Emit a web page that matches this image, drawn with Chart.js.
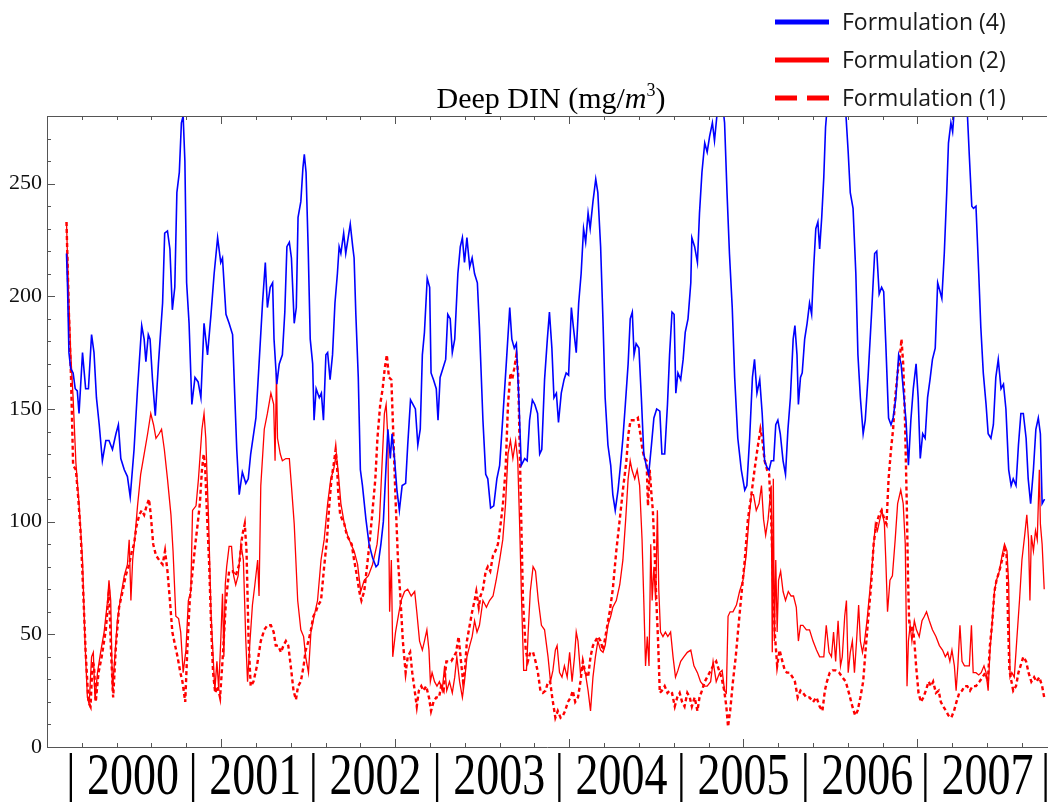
<!DOCTYPE html>
<html>
<head>
<meta charset="utf-8">
<script src="https://cdn.jsdelivr.net/npm/chart.js@4.4.0/dist/chart.umd.min.js"></script>
<style>
  html, body { margin: 0; padding: 0; background: #fff; }
  canvas { display: block; }
</style>
</head>
<body>
<canvas id="din-chart" width="1048" height="802"></canvas>
<script>
// Deep DIN (mg/m3), x in model days, pairs are [day, value]
const f4Series = [[56,219],[59,204],[63,175],[68,168],[75,166],[81,159],[87,158],[92,148],[102,175],[111,159],[119,159],[128,183],[135,175],[142,155],[150,143],[159,127],[169,136],[178,136],[188,132],[198,139],[205,143],[212,128],[222,123],[231,120],[239,111],[250,132],[260,159],[272,187],[279,181],[284,171],[291,183],[296,181],[303,163],[311,147],[320,170],[332,197],[338,228],[346,229],[353,221],[360,194],[367,204],[373,246],[380,255],[386,277],[391,280],[396,260],[401,206],[408,188],[416,152],[425,164],[434,162],[442,155],[451,188],[461,174],[471,192],[480,210],[490,226],[499,215],[504,217],[514,192],[523,188],[533,183],[539,157],[545,132],[552,112],[561,122],[571,117],[578,119],[585,130],[600,146],[609,170],[619,197],[627,215],[633,195],[641,204],[648,206],[652,181],[660,161],[667,170],[676,174],[683,193],[689,222],[696,224],[702,217],[710,188],[716,195],[721,235],[729,242],[735,257],[739,263],[744,255],[750,222],[756,181],[763,170],[767,145],[773,159],[782,155],[788,157],[794,145],[801,174],[806,175],[813,163],[820,174],[827,197],[834,210],[839,222],[844,219],[852,228],[858,219],[865,226],[871,232],[878,222],[882,217],[887,192],[894,164],[900,123],[906,116],[916,101],[925,90],[935,84],[945,80],[951,81],[959,90],[966,100],[972,119],[979,141],[986,128],[991,139],[998,128],[1005,114],[1012,105],[1020,116],[1030,117],[1036,134],[1044,154],[1051,152],[1058,150],[1065,134],[1072,141],[1078,174],[1084,184],[1092,208],[1099,204],[1103,166],[1110,163],[1118,159],[1123,145],[1129,164],[1137,168],[1145,172],[1151,192],[1158,190],[1164,175],[1171,181],[1180,210],[1187,222],[1193,226],[1199,215],[1206,226],[1214,213],[1221,217],[1228,210],[1236,206],[1242,186],[1252,145],[1260,121],[1266,119],[1274,106],[1283,107],[1292,119],[1300,125],[1309,146],[1319,170],[1329,195],[1335,181],[1342,177],[1348,179],[1355,155],[1362,125],[1372,128],[1379,127],[1386,145],[1394,154],[1401,152],[1409,148],[1415,130],[1421,132],[1429,163],[1437,181],[1443,193],[1450,177],[1456,155],[1463,157],[1469,144],[1477,157],[1485,163],[1491,166],[1498,165],[1506,195],[1512,186],[1520,175],[1527,197],[1534,210],[1541,230],[1547,224],[1554,237],[1560,230],[1568,242],[1576,252],[1582,246],[1590,222],[1597,188],[1603,155],[1611,134],[1619,125],[1625,112],[1632,105],[1640,114],[1647,125],[1654,137],[1661,152],[1669,170],[1675,190],[1681,193],[1686,174],[1692,179],[1700,177],[1707,155],[1714,130],[1721,125],[1728,121],[1736,134],[1743,146],[1751,150],[1760,149],[1766,130],[1774,130],[1782,152],[1788,174],[1795,193],[1801,192],[1806,157],[1812,166],[1820,163],[1827,172],[1833,184],[1841,190],[1849,206],[1852,226],[1860,222],[1868,215],[1874,237],[1881,255],[1889,268],[1896,264],[1903,271],[1911,277],[1917,269],[1927,285],[1937,290],[1946,277],[1953,246],[1960,219],[1968,195],[1975,164],[1984,137],[1994,123],[2004,114],[2010,116],[2018,137],[2026,164],[2032,172],[2039,157],[2047,163],[2054,148],[2061,127],[2068,124],[2074,123],[2080,127],[2087,127],[2093,143],[2099,145],[2106,139],[2114,127],[2121,121],[2128,141],[2135,155],[2143,181],[2148,187],[2154,174],[2158,152],[2164,164],[2169,166],[2176,181],[2183,188],[2190,197],[2196,192],[2202,213],[2208,230],[2214,233],[2219,221],[2225,235],[2231,253],[2236,275],[2245,292],[2290,292],[2301,264],[2307,246],[2315,239],[2323,210],[2329,174],[2336,155],[2344,139],[2350,145],[2358,164],[2368,192],[2377,219],[2383,220],[2390,201],[2397,204],[2403,202],[2409,179],[2417,146],[2424,143],[2430,146],[2438,155],[2446,174],[2453,170],[2459,159],[2467,145],[2474,125],[2481,145],[2488,159],[2496,170],[2502,155],[2508,128],[2515,139],[2522,137],[2529,155],[2536,163],[2543,172],[2551,177],[2558,206],[2565,202],[2570,199],[2577,219],[2584,246],[2589,268],[2596,277],[2601,273],[2610,292],[2640,292],[2649,262],[2656,240],[2661,239],[2668,240],[2676,210],[2682,186],[2689,166],[2697,152],[2703,139],[2711,137],[2718,143],[2725,164],[2732,172],[2740,159],[2747,161],[2754,150],[2762,123],[2769,116],[2775,119],[2783,116],[2790,134],[2797,148],[2804,148],[2812,137],[2818,119],[2825,108],[2833,123],[2840,141],[2847,146],[2853,139],[2858,108],[2865,110]];

const f2Series = [[56,233],[62,201],[68,175],[75,155],[83,126],[92,108],[102,83],[109,47],[116,22],[121,19],[128,40],[133,42],[138,21],[145,33],[154,42],[164,51],[174,65],[178,74],[183,65],[188,25],[194,38],[202,56],[212,67],[222,76],[231,81],[236,92],[241,65],[246,83],[253,94],[260,107],[269,121],[279,130],[289,139],[298,148],[306,143],[313,137],[322,139],[329,141],[337,132],[346,119],[356,103],[362,87],[370,58],[378,57],[384,51],[391,33],[399,43],[406,65],[413,69],[418,105],[428,107],[435,119],[445,141],[451,148],[456,137],[464,101],[471,60],[475,47],[482,25],[488,38],[493,26],[499,47],[504,68],[508,40],[512,72],[516,80],[523,89],[530,89],[536,76],[542,72],[549,76],[557,90],[564,83],[571,47],[576,29],[583,47],[590,63],[597,72],[605,83],[609,67],[614,116],[624,141],[633,148],[643,157],[651,152],[655,127],[659,166],[662,137],[670,130],[676,127],[686,128],[696,128],[702,116],[710,99],[720,65],[729,52],[737,49],[743,40],[751,33],[758,51],[767,58],[777,65],[787,83],[796,92],[806,108],[815,119],[823,123],[831,130],[837,121],[844,108],[854,99],[863,94],[873,90],[882,87],[892,81],[901,69],[911,74],[923,76],[935,81],[948,90],[955,101],[963,128],[969,148],[974,152],[979,137],[984,60],[989,83],[993,40],[1001,51],[1011,60],[1017,65],[1027,69],[1036,70],[1046,67],[1056,69],[1062,60],[1070,47],[1078,43],[1084,47],[1091,52],[1097,43],[1101,29],[1106,33],[1113,29],[1120,27],[1127,29],[1135,25],[1142,36],[1148,25],[1156,29],[1164,24],[1171,31],[1177,40],[1185,29],[1193,22],[1199,29],[1206,40],[1214,45],[1221,49],[1228,56],[1235,51],[1242,54],[1252,65],[1262,62],[1271,65],[1281,67],[1290,74],[1300,83],[1309,92],[1317,108],[1324,130],[1331,136],[1338,128],[1346,136],[1352,127],[1357,101],[1363,65],[1369,34],[1377,34],[1382,51],[1388,69],[1396,80],[1403,78],[1411,65],[1420,54],[1429,52],[1439,40],[1446,29],[1453,34],[1460,43],[1465,45],[1472,33],[1479,31],[1486,36],[1494,31],[1501,42],[1508,29],[1515,40],[1520,51],[1525,47],[1532,33],[1539,36],[1546,33],[1554,25],[1561,16],[1568,31],[1575,40],[1582,47],[1590,43],[1597,42],[1603,45],[1611,54],[1619,58],[1625,62],[1635,65],[1645,72],[1654,83],[1662,101],[1669,119],[1675,127],[1680,123],[1688,119],[1695,123],[1702,116],[1709,92],[1714,65],[1719,36],[1724,49],[1729,36],[1734,90],[1738,65],[1743,80],[1748,65],[1753,105],[1757,70],[1762,51],[1769,49],[1776,51],[1783,49],[1791,51],[1798,40],[1805,31],[1812,34],[1820,38],[1829,40],[1839,42],[1849,43],[1858,36],[1868,33],[1877,29],[1887,27],[1896,27],[1906,29],[1913,38],[1922,29],[1932,33],[1939,34],[1946,25],[1951,24],[1956,58],[1962,60],[1970,60],[1980,63],[1989,69],[1999,74],[2008,85],[2016,101],[2023,112],[2029,112],[2037,105],[2045,108],[2052,116],[2058,101],[2064,94],[2071,101],[2075,108],[2080,116],[2083,42],[2086,119],[2089,47],[2093,83],[2097,51],[2101,74],[2107,78],[2114,69],[2121,65],[2129,69],[2137,67],[2144,67],[2152,62],[2158,47],[2164,54],[2171,54],[2181,52],[2190,52],[2200,47],[2210,43],[2219,40],[2231,40],[2238,54],[2246,42],[2253,40],[2259,51],[2265,38],[2272,56],[2279,36],[2284,40],[2291,58],[2296,65],[2301,33],[2307,42],[2313,47],[2319,33],[2325,47],[2331,63],[2336,47],[2342,42],[2348,47],[2355,56],[2363,69],[2371,83],[2379,99],[2385,96],[2392,101],[2398,105],[2405,99],[2409,83],[2414,60],[2421,74],[2428,76],[2436,92],[2443,108],[2452,114],[2459,108],[2465,90],[2470,27],[2474,47],[2479,54],[2484,47],[2491,56],[2497,52],[2505,49],[2513,56],[2520,58],[2526,60],[2534,56],[2543,52],[2553,49],[2563,45],[2572,43],[2580,40],[2587,42],[2593,38],[2599,43],[2606,36],[2611,25],[2616,36],[2622,54],[2628,38],[2635,36],[2641,36],[2649,36],[2655,54],[2660,33],[2668,33],[2676,32],[2683,33],[2691,36],[2697,33],[2703,25],[2708,42],[2714,54],[2721,69],[2727,74],[2735,78],[2743,85],[2750,90],[2757,87],[2762,72],[2766,31],[2771,33],[2778,31],[2785,47],[2793,65],[2800,83],[2808,94],[2814,103],[2819,92],[2823,65],[2827,94],[2833,87],[2839,96],[2844,92],[2850,123],[2853,99],[2858,90],[2864,70]];

const f1Series = [[56,233],[63,192],[69,164],[75,125],[83,123],[90,110],[97,94],[104,69],[111,42],[119,20],[125,18],[131,38],[135,36],[140,20],[148,33],[157,40],[169,52],[178,70],[184,42],[190,22],[198,45],[207,62],[217,69],[226,76],[236,81],[244,87],[250,90],[257,98],[265,103],[272,105],[279,103],[286,107],[293,110],[298,103],[305,90],[313,85],[322,83],[332,81],[339,87],[346,78],[353,65],[360,51],[368,45],[375,40],[383,33],[389,29],[397,20],[404,47],[410,65],[418,78],[426,90],[432,98],[439,108],[445,123],[450,130],[454,125],[459,105],[466,80],[472,51],[477,33],[483,24],[490,27],[497,22],[504,38],[514,65],[523,78],[533,78],[542,76],[552,81],[561,94],[568,99],[573,87],[579,47],[585,27],[593,29],[603,36],[614,47],[624,52],[633,54],[643,54],[651,51],[657,45],[664,45],[672,42],[679,45],[686,47],[693,45],[700,36],[708,25],[715,21],[721,27],[729,29],[737,36],[743,43],[751,47],[758,52],[765,58],[772,60],[779,63],[787,65],[796,80],[804,92],[811,108],[817,119],[823,125],[829,132],[833,125],[836,114],[842,103],[848,101],[854,99],[861,94],[868,92],[875,90],[882,83],[890,76],[897,69],[903,65],[911,69],[919,80],[926,90],[935,105],[943,119],[949,137],[957,152],[964,159],[970,168],[976,174],[982,164],[989,163],[995,137],[1001,110],[1008,83],[1014,69],[1022,47],[1030,33],[1036,40],[1043,42],[1049,33],[1056,25],[1062,18],[1068,25],[1075,27],[1081,25],[1089,27],[1097,22],[1103,16],[1110,20],[1118,22],[1126,22],[1132,27],[1139,25],[1147,38],[1154,38],[1161,38],[1168,40],[1175,42],[1182,49],[1189,38],[1195,29],[1200,34],[1206,47],[1214,54],[1221,60],[1228,65],[1233,69],[1240,62],[1245,67],[1252,70],[1260,78],[1266,80],[1273,78],[1281,85],[1288,87],[1295,90],[1302,98],[1309,107],[1317,123],[1324,152],[1331,166],[1336,163],[1342,168],[1348,174],[1353,166],[1357,137],[1362,101],[1367,65],[1375,43],[1381,38],[1388,42],[1396,42],[1403,38],[1410,33],[1417,25],[1424,24],[1432,25],[1439,29],[1445,29],[1451,22],[1460,13],[1467,16],[1475,13],[1482,14],[1488,16],[1496,20],[1504,22],[1510,25],[1517,20],[1525,22],[1532,29],[1539,38],[1546,33],[1554,31],[1561,40],[1568,45],[1575,47],[1582,49],[1590,47],[1597,43],[1606,51],[1616,60],[1625,70],[1635,87],[1645,101],[1654,114],[1664,127],[1670,139],[1676,145],[1683,145],[1690,145],[1697,146],[1704,139],[1710,132],[1716,128],[1722,127],[1726,107],[1731,123],[1736,112],[1740,105],[1745,87],[1750,65],[1755,47],[1760,24],[1766,25],[1774,27],[1782,24],[1788,25],[1795,24],[1803,18],[1810,22],[1817,24],[1824,20],[1831,18],[1839,24],[1846,22],[1852,18],[1860,22],[1868,16],[1874,22],[1881,25],[1889,29],[1896,31],[1903,33],[1913,36],[1922,38],[1930,34],[1937,31],[1945,25],[1951,18],[1956,9],[1962,16],[1970,29],[1978,40],[1985,52],[1994,67],[2004,83],[2013,101],[2023,112],[2032,123],[2042,134],[2049,141],[2054,137],[2061,127],[2068,123],[2074,121],[2080,101],[2085,74],[2090,51],[2097,36],[2104,43],[2112,38],[2119,34],[2125,33],[2133,33],[2141,31],[2148,29],[2156,22],[2164,25],[2171,24],[2181,22],[2190,22],[2200,20],[2210,22],[2219,18],[2227,16],[2234,25],[2240,29],[2248,33],[2256,34],[2265,34],[2275,33],[2284,31],[2294,29],[2303,24],[2313,18],[2321,14],[2328,16],[2336,22],[2344,29],[2351,43],[2359,58],[2367,72],[2374,90],[2382,99],[2390,103],[2397,105],[2405,101],[2411,99],[2417,119],[2424,132],[2430,141],[2436,155],[2443,166],[2450,174],[2454,181],[2459,170],[2464,146],[2469,110],[2473,74],[2476,56],[2481,51],[2486,54],[2491,47],[2496,36],[2503,24],[2510,20],[2517,22],[2524,25],[2532,29],[2539,27],[2545,29],[2553,24],[2561,25],[2567,20],[2574,18],[2582,16],[2589,14],[2597,13],[2605,16],[2612,20],[2620,24],[2628,25],[2635,27],[2643,27],[2651,25],[2658,27],[2668,27],[2678,29],[2687,31],[2695,33],[2702,29],[2708,45],[2714,54],[2721,69],[2727,74],[2735,78],[2743,83],[2750,88],[2756,85],[2760,56],[2764,34],[2770,29],[2775,25],[2783,27],[2790,33],[2796,36],[2804,40],[2812,38],[2819,33],[2827,29],[2835,31],[2842,29],[2850,31],[2858,27],[2864,22]];

const seriesLabels = ['Formulation (4)', 'Formulation (2)', 'Formulation (1)'];
const yearNames = ['2000', '2001', '2002', '2003', '2004', '2005', '2006', '2007'];
const yearStartDay = [67, 418, 763, 1119, 1470, 1820, 2176, 2521, 2866];

const serif = '"Liberation Serif", "Times New Roman", serif';
const toXY = s => s.map(p => ({ x: p[0], y: p[1] }));

// inward ticks + top frame, Mathematica style
const frameTicks = {
    id: 'frameTicks',
    afterDatasetsDraw(chart) {
        const { ctx, chartArea: a, scales: { x, y } } = chart;
        ctx.save();
        ctx.strokeStyle = '#555';
        ctx.lineWidth = 1;
        ctx.beginPath();
        ctx.moveTo(a.left, a.top + 0.5);
        ctx.lineTo(a.right, a.top + 0.5);
        y.ticks.forEach(t => {
            const py = Math.round(y.getPixelForValue(t.value)) + 0.5;
            const len = t.value % 50 === 0 ? 8 : 4;
            ctx.moveTo(a.left, py);
            ctx.lineTo(a.left + len, py);
        });
        x.ticks.forEach(t => {
            const px = Math.round(x.getPixelForValue(t.value)) + 0.5;
            const len = t.value % 500 === 0 ? 8 : 4;
            ctx.moveTo(px, a.bottom);
            ctx.lineTo(px, a.bottom - len);
            ctx.moveTo(px, a.top);
            ctx.lineTo(px, a.top + len);
        });
        ctx.stroke();
        ctx.restore();
    }
};

// title, legend and year strip
const annotations = {
    id: 'annotations',
    afterDraw(chart) {
        const { ctx, scales: { x } } = chart;
        ctx.save();
        ctx.fillStyle = '#000';
        ctx.textBaseline = 'alphabetic';

        // title: Deep DIN (mg/m^3)
        const parts = [
            { t: 'Deep DIN (mg/', f: '30px ' + serif, dy: 0 },
            { t: 'm', f: 'italic 30px ' + serif, dy: 0 },
            { t: '3', f: '18px ' + serif, dy: -12 },
            { t: ')', f: '30px ' + serif, dy: 0 }
        ];
        let total = 0;
        parts.forEach(p => { ctx.font = p.f; p.w = ctx.measureText(p.t).width; total += p.w; });
        let tx = 551 - total / 2;
        parts.forEach(p => { ctx.font = p.f; ctx.fillText(p.t, tx, 108 + p.dy); tx += p.w; });

        // legend
        ctx.textBaseline = 'middle';
        ctx.font = '23px "Open Sans", sans-serif';
        chart.data.datasets.forEach((ds, i) => {
            const cy = 22 + 38 * i;
            ctx.save();
            ctx.strokeStyle = ds.borderColor;
            ctx.lineWidth = 5;
            ctx.setLineDash(ds.borderDash ? [22, 10] : []);
            ctx.beginPath();
            ctx.moveTo(775, cy);
            ctx.lineTo(829, cy);
            ctx.stroke();
            ctx.restore();
            ctx.fillStyle = '#1a1a1a';
            ctx.fillText(ds.label, 842, cy + 1);
        });

        // year strip under the axis, stretched tall like the original
        ctx.fillStyle = '#000';
        ctx.textBaseline = 'alphabetic';
        ctx.font = '46px ' + serif;
        const sy = 1.28;
        ctx.scale(1, sy);
        yearNames.forEach((name, i) => {
            const px = x.getPixelForValue(yearStartDay[i]);
            ctx.fillText('| ' + name, px - 4, 794 / sy);
        });
        ctx.fillText('|', x.getPixelForValue(yearStartDay[yearNames.length]) - 4, 794 / sy);
        ctx.restore();
    }
};

const ctx = document.getElementById('din-chart').getContext('2d');
new Chart(ctx, {
    type: 'line',
    data: {
        datasets: [
            { label: seriesLabels[0], data: toXY(f4Series), borderColor: '#0000ff', borderWidth: 1.6, clip: 0 },
            { label: seriesLabels[1], data: toXY(f2Series), borderColor: '#ff0000', borderWidth: 1.3, clip: 0 },
            { label: seriesLabels[2], data: toXY(f1Series), borderColor: '#ff0000', borderWidth: 2.4, borderDash: [4, 3], clip: 0 }
        ]
    },
    options: {
        responsive: false,
        animation: false,
        elements: { point: { radius: 0 }, line: { tension: 0 } },
        layout: { padding: { top: 116, right: 1, left: 0, bottom: 0 } },
        plugins: {
            legend: { display: false },
            title: { display: false },
            tooltip: { enabled: false }
        },
        scales: {
            x: {
                type: 'linear',
                min: 0,
                max: 2872,
                ticks: { display: false, stepSize: 100, includeBounds: false, autoSkip: false },
                grid: { drawOnChartArea: false, drawTicks: false },
                border: { color: '#555' },
                afterFit(s) { s.height = 55; }
            },
            y: {
                min: 0,
                max: 280,
                ticks: {
                    stepSize: 10,
                    autoSkip: false,
                    padding: 5,
                    color: '#111',
                    font: { family: serif, size: 22 },
                    callback: v => (v % 50 === 0 ? v : '')
                },
                grid: { drawOnChartArea: false, drawTicks: false },
                border: { color: '#555' },
                afterFit(s) { s.width = 47; }
            }
        }
    },
    plugins: [frameTicks, annotations]
});
</script>
</body>
</html>
